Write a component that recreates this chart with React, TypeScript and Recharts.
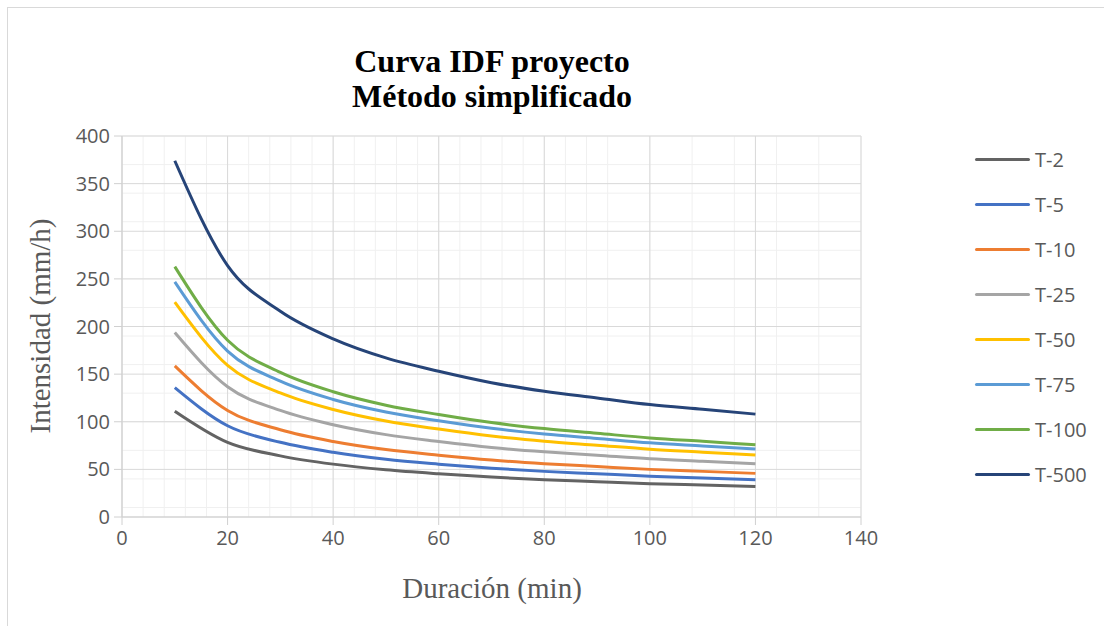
import React from "react";
import { LineChart, Line, XAxis, YAxis, CartesianGrid, Legend } from "recharts";

// Duración (min)
const durations = [10, 20, 30, 40, 50, 60, 70, 80, 90, 100, 110, 120];

// Intensidad (mm/h) por periodo de retorno
const t2 = [111.1, 78.4, 64.2, 55.5, 49.6, 45.4, 41.9, 39.2, 37.1, 35.0, 33.6, 32.1];
const t5 = [135.8, 95.8, 78.4, 67.9, 60.6, 55.5, 51.2, 47.9, 45.4, 42.8, 41.0, 39.2];
const t10 = [158.6, 111.9, 91.6, 79.3, 70.8, 64.9, 59.8, 56.0, 53.0, 50.0, 47.9, 45.8];
const t25 = [193.7, 136.8, 111.9, 96.9, 86.5, 79.3, 73.0, 68.4, 64.8, 61.1, 58.5, 55.9];
const t50 = [225.5, 159.2, 130.2, 112.8, 100.7, 92.3, 85.0, 79.6, 75.4, 71.2, 68.1, 65.1];
const t75 = [246.8, 174.2, 142.6, 123.4, 110.2, 101.0, 93.1, 87.1, 82.5, 77.9, 74.6, 71.3];
const t100 = [262.9, 185.6, 151.8, 131.5, 117.4, 107.6, 99.1, 92.8, 87.9, 83.0, 79.4, 75.9];
const t500 = [374.0, 264.0, 216.0, 187.0, 167.0, 153.0, 141.0, 132.0, 125.0, 118.0, 113.0, 108.0];

const seriesNames = ["T-2", "T-5", "T-10", "T-25", "T-50", "T-75", "T-100", "T-500"];
const seriesValues = [t2, t5, t10, t25, t50, t75, t100, t500];
const seriesColors = ["#636363", "#4472C4", "#ED7D31", "#A5A5A5", "#FFC000", "#5B9BD5", "#70AD47", "#264478"];

const xTicks = [0, 20, 40, 60, 80, 100, 120, 140];
const yTicks = [0, 50, 100, 150, 200, 250, 300, 350, 400];
const xMinor = Array.from({ length: 36 }, (_, i) => i * 4);
const yMinor = Array.from({ length: 41 }, (_, i) => i * 10);

const data = durations.map((d, i) => {
  const row: Record<string, number> = { duracion: d };
  seriesNames.forEach((name, s) => {
    row[name] = seriesValues[s][i];
  });
  return row;
});

const tickStyle = { fontSize: 20, fill: "#595959", fontFamily: "'Open Sans', sans-serif" };

// legend keeps the series order instead of sorting by name
const renderLegend = (props: any) => {
  const items = [...(props.payload || [])].sort(
    (a: any, b: any) => seriesNames.indexOf(a.value) - seriesNames.indexOf(b.value)
  );
  return (
    <div style={{ display: "flex", flexDirection: "column" }}>
      {items.map((entry: any) => (
        <div
          key={entry.value}
          style={{ height: 45, display: "flex", alignItems: "center" }}
        >
          <span
            style={{
              display: "inline-block",
              width: 55,
              height: 3,
              borderRadius: 2,
              background: entry.color,
              marginRight: 5,
            }}
          />
          <span
            style={{
              fontFamily: "'Open Sans', sans-serif",
              fontSize: 20,
              color: "#595959",
            }}
          >
            {entry.value}
          </span>
        </div>
      ))}
    </div>
  );
};

const App: React.FC = () => {
  return (
    <div style={{ position: "absolute", left: 0, top: 0, width: 1104, height: 626, background: "#fff" }}>
      <div
        style={{
          position: "absolute",
          left: 7,
          top: 7,
          width: 1110,
          height: 640,
          border: "1px solid #d9d9d9",
        }}
      />
      <LineChart
        width={1104}
        height={626}
        data={data}
        margin={{ top: 136, right: 118, bottom: 79, left: 62 }}
      >
        <CartesianGrid
          stroke="#f0f0f0"
          strokeWidth={1}
          verticalValues={xMinor}
          horizontalValues={yMinor}
        />
        <CartesianGrid
          stroke="#d9d9d9"
          strokeWidth={1}
          verticalValues={xTicks}
          horizontalValues={yTicks}
        />
        <XAxis
          dataKey="duracion"
          type="number"
          domain={[0, 140]}
          ticks={xTicks}
          height={30}
          stroke="#d0d0d0"
          tickSize={8}
          tickMargin={6}
          tick={tickStyle}
        />
        <YAxis
          type="number"
          domain={[0, 400]}
          ticks={yTicks}
          width={60}
          stroke="#d0d0d0"
          tickSize={8}
          tickMargin={4}
          tick={tickStyle}
        />
        <Legend
          layout="vertical"
          align="right"
          verticalAlign="top"
          content={renderLegend}
          wrapperStyle={{ left: 975, top: 137, width: 125 }}
        />
        {seriesNames.map((name, s) => (
          <Line
            key={name}
            type="monotone"
            dataKey={name}
            name={name}
            stroke={seriesColors[s]}
            strokeWidth={3}
            dot={false}
            activeDot={false}
            isAnimationActive={false}
          />
        ))}
      </LineChart>
      <div
        style={{
          position: "absolute",
          left: 192,
          width: 600,
          top: 44,
          textAlign: "center",
          fontFamily: "'Liberation Serif', 'Times New Roman', serif",
          fontWeight: "bold",
          fontSize: 32,
          lineHeight: "35px",
          color: "#000",
        }}
      >
        Curva IDF proyecto
        <br />
        Método simplificado
      </div>
      <div
        style={{
          position: "absolute",
          left: 40,
          top: 326,
          transform: "translate(-50%, -50%) rotate(-90deg)",
          whiteSpace: "nowrap",
          fontFamily: "'Liberation Serif', 'Times New Roman', serif",
          fontSize: 29,
          color: "#595959",
        }}
      >
        Intensidad (mm/h)
      </div>
      <div
        style={{
          position: "absolute",
          left: 192,
          width: 600,
          top: 570,
          textAlign: "center",
          fontFamily: "'Liberation Serif', 'Times New Roman', serif",
          fontSize: 29,
          lineHeight: "36px",
          color: "#595959",
        }}
      >
        Duración (min)
      </div>
    </div>
  );
};

export default App;
